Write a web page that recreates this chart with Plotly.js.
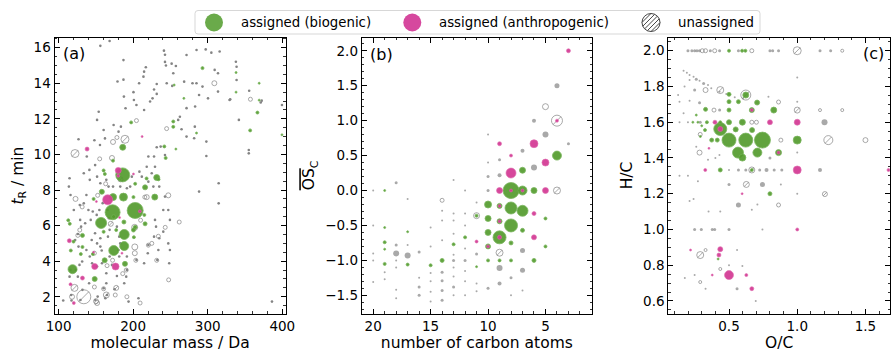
<!DOCTYPE html>
<html><head><meta charset="utf-8">
<script src="https://cdn.plot.ly/plotly-3.0.1.min.js"></script>
<style>html,body{margin:0;padding:0;background:#fff}</style>
</head><body><div id="chart" style="width:891px;height:355px"></div>
<script>
// ---------------- Panel (a): retention time vs molecular mass ----------------
const aBioMass=[172.4,202.7,186,157,174,188,188,118.7,173,187,186,231.6,229,216,158,189,161.8,148.4,216,202.7,132,132,129.8,115,116.4,160.4,160.4,147,173,200.4,202.7,241.8,243.6,253.8,253.8,255,268,285,293,338,338,369,366.7,356.9,369,399.6,197.3,257.3,200.4,201,187.6,218,173.8,177.3,113,120,146,162,234,215];
const aBioRT=[6.75,6.85,8.85,6.15,4.6,5.5,4.85,3.55,7.6,7.6,10.4,8.7,7.6,8.15,7.9,3.85,4.05,3.0,6.1,5.9,5.45,4.8,4.4,6.1,4.6,5.65,9.1,7.5,9.65,7.6,8.35,10.45,9.8,11.85,11.55,13.9,13.15,11.2,14.85,14.6,13.5,13.05,12.35,11.35,14.0,11.1,11.8,10.3,5.75,5.35,6.2,8.65,6.5,5.75,6.3,5.1,4.4,8.9,8.6,6.6];
const aBioSize=[15,16,14,11,10,10,9,9,7,8,6,6,6,5,5,5,5,5,4,4,4,3,3,3,3,3,3,3,3,3,3,3,3,3,3,2,2,2,3,2,2,2,3,3,2,2,3,2,4,3,4,3,4,3,3,3,3,3,3,3];
const aAnthMass=[165.8,176.4,148.4,180,138.2,132,114.4,116,120.4,209,200.4,212,181.8,150.7,147,180,185];
const aAnthRT=[7.45,3.7,3.7,9.1,10.3,3.05,5.15,2.7,1.65,6.8,8.9,11.0,6.45,7.35,4.5,8.8,4.45];
const aAnthSize=[10,7,6,6,4,4,4,3,3,3,2,2,2,2,2,3,2];
const aHatchMass=[133.8,122,189,121.3,151.6,164,177.3,202,183,170];
const aHatchRT=[2.0,10.05,10.85,2.5,1.65,2.1,2.5,5.9,8.6,6.1];
const aHatchSize=[14,8,8,7,5,6,5,6,5,5];
const aRingMass=[261.8,218.2,247.1,171.6,173,178.2,204.4,152.4,163.1,122.7,128.4,125.8,202.2,202.2,220.4,203.6,190.7,172.4,160.4,150.2,191.6,209.3,247.6,231.6,233.8,215.6,155.1,308.9,357.3,244.9,131.6,148,176,118,148,165,186,210,225,243];
const aRingRT=[6.2,7.6,7.7,9.8,10.7,10.95,11.9,7.7,8.35,7.5,5.75,5.45,4.8,4.45,4.9,4.05,3.5,4.05,2.45,1.75,2.0,1.65,2.95,4.05,5.4,7.6,9.75,14.0,13.1,11.45,7.05,2.55,2.1,2.0,4.45,3.75,3.3,6.3,5.0,5.9];
const aRingSize=[4,5,5,5,5,4,4,4,4,5,4,4,6,5,4,4,4,4,4,5,4,4,4,4,4,4,4,5,4,4,4,4,4,5,4,4,4,4,4,4];
const aDotMass=[168.4,156,187,179,187,187.6,200.4,201,208,213.8,214.7,217,231.6,228,231.6,241.3,242.7,242.7,244,251.6,253.8,257.3,245,252.4,226,222.7,214.7,204.4,189.8,183.6,180.4,173.8,160.4,153.8,151.6,162.2,155.5,148,126.7,137.8,149,141.3,133.8,114.7,116,113.8,120.4,128.4,133.8,137.3,141.8,151.6,156,164,167,173,182.7,191.6,196,198.2,208.4,211.6,218.2,220.4,228,229.3,231.6,236.9,242.7,224.9,220.4,227.1,235,242.7,240.4,247.1,249.3,229.3,230.7,228,235,240.4,247.1,249.3,248.4,232.4,233.8,220.4,219.6,214.7,204.4,191.6,191.6,190.7,188,178.2,175,164.9,162.7,152.4,149.3,129.3,116.9,117.3,106.2,193.8,207.1,160.4,164,164,151.6,144.9,141.8,137.3,126.7,122.2,125.8,130.2,128.9,135.6,143.1,145.8,140,151.1,154.7,159.1,165.8,167.5,151.6,156,148.9,144.4,156,157.8,166.2,168.4,178.2,181.3,182.7,180.4,181.3,171.6,168.4,158.2,131.6,128,123.1,116,114.7,125.8,132,140.9,298.2,288.4,314.7,314.7,355.1,355.1,341.8,329.3,313.8,313.8,309.3,316,304.9,297.3,285,271.6,268.4,279.6,284.9,293,288.4,300.4,283.1,271.6,262.7,264.9,271.6,281.8,282.7,298.2,337.8,338.7,338.7,355.6,371.1,372.4,386.2,399.6,330.2,260.4];
const aDotRT=[16.37,16.1,15.3,14.1,14.2,13.25,13.5,13.06,14.0,14.37,14.65,14.9,13.96,13.65,13.4,15.83,15.6,15.2,15.0,15.1,14.56,14.97,14.0,13.85,13.15,12.97,12.5,12.78,12.59,11.56,11.28,11.65,11.37,12.4,11.94,10.9,10.53,10.8,10.85,9.88,9.4,9.13,8.94,8.66,7.72,8.19,6.88,7.16,7.25,7.72,8.57,8.75,8.38,8.57,8.19,8.19,8.19,8.1,8.19,8.75,9.03,8.75,9.31,9.88,9.88,9.31,10.4,10.44,9.97,8.94,8.47,8.19,8.19,7.63,6.88,6.88,6.32,6.32,5.94,5.38,5.29,5.66,5.0,4.63,3.88,4.07,4.63,4.91,4.45,3.88,4.07,4.26,3.51,3.13,2.76,3.17,2.42,2.1,1.92,2.01,1.82,1.82,2.1,1.79,1.79,1.73,1.92,2.48,2.76,3.32,3.7,3.88,4.26,4.63,4.82,5.19,5.53,5.94,6.32,6.13,6.32,6.79,6.88,6.6,6.88,7.26,6.88,6.41,5.0,5.29,5.57,5.19,4.82,4.6,5.38,5.76,5.94,5.38,5.0,4.63,4.26,3.79,4.26,3.88,3.98,3.79,3.51,3.51,3.13,3.13,2.39,2.76,9.91,7.91,8.38,7.25,10.06,10.25,11.94,13.06,13.53,14.56,14.75,15.78,15.72,15.9,15.87,15.59,14.09,14.0,14.0,13.81,13.34,13.15,12.69,12.6,12.12,11.41,11.0,10.91,11.56,10.72,15.21,14.93,14.18,13.58,12.92,13.02,1.73,12.78,13.1,11.94];

// ---------------- Panel (b): mean carbon oxidation state vs number of C ----------------
const bBioC=[8,7,6,4,7,8,7,8,9,10,10,10,9,9,8,7,5,5,6,8,9,10,11,11,12,13,14,15,17,17,19,19,19,19,19,10];
const bBioOS=[0,0,0,0.5,0.29,-0.25,-0.29,-0.5,-0.67,-0.2,-0.4,-0.6,-0.22,-0.44,-0.75,-0.57,-0.4,-0.8,-1.0,-1.0,-1.0,-1.0,-1.09,-0.36,-0.67,-0.77,-1.0,-1.07,-0.59,-1.06,-0.74,-0.84,-1.05,0,-0.53,-0.8];
const bBioSize=[16,9,6,9,6,12,11,13,13,7,6,6,5,5,4,4,3,3,4,3,3,3,2,3,3,3,4,3,2,3,3,2,3,2,2,5];
const bAnthC=[3,4,6,9,8,8,5,9,5,7,8,6,6,9,9,9,11,10];
const bAnthOS=[2.0,1.0,0.67,0.67,0.5,0.25,0.4,0,0,0,0,-0.33,-0.67,-0.22,-0.44,-0.67,-0.73,-0.8];
const bAnthSize=[4,3,8,4,3,10,7,6,6,3,3,4,5,3,3,4,3,3];
const bHatchC=[4,4,9];
const bHatchOS=[1.0,0.0,-0.89];
const bHatchSize=[11,7,7];
const bRingC=[5,11,14];
const bRingOS=[1.2,-0.36,-0.14];
const bRingSize=[6,6,4];
const bDotC=[4,6,5,3,7,6,9,9,10,10,10,10,13,17,18,20,12,11,12,13,14,13,14,12,13,14,15,15,12,13,11,12,13,16,17,18,18,18,18,18,19,19,20,20,20,20,16,16,16,15,15,15,15,14,14,14,14,13,13,13,13,12,12,12,11,11,10,9,9,8,8,7,7,7,17,18];
const bDotOS=[1.5,1.0,0.8,0.67,0.57,0.33,0.44,0.22,0.2,0.4,0.8,0,0.15,-0.12,0.11,0,0,-0.17,-0.33,-0.33,-0.29,-0.43,-0.43,-0.5,-0.62,-0.71,-0.8,-0.53,-0.83,-0.92,-0.91,-1.0,-1.0,-0.88,-0.78,-0.78,-1.0,-1.1,-1.42,-1.54,-1.17,-1.27,-0.9,-1.0,-1.31,-0.5,-1.25,-1.38,-1.5,-1.18,-1.3,-1.45,-1.59,-1.17,-1.29,-1.43,-1.57,-1.1,-1.23,-1.38,-1.5,-1.15,-1.3,-1.5,-1.33,-1.44,-1.4,-1.33,-1.11,-1.25,-1.5,-1.14,-1.43,-0.86,-0.93,-0.9];
const bDotSize=[5,4,6,3,4,6,3,4,3,2,2,3,2,2,3,2,2,2,2,2,2,2,2,2,2,2,2,2,2,2,3,3,3,3,2,3,2,2,2,2,2,2,2,2,2,2,2,3,3,2,2,2,2,3,3,3,3,2,2,3,2,2,2,2,2,2,3,4,6,3,2,5,2,5,6,6];

// ---------------- Panel (c): van Krevelen H/C vs O/C ----------------
const cBioOC=[0.436,0.5,0.623,0.745,0.566,0.598,0.708,0.863,1.0,0.5,0.598,0.549,0.669,0.436,0.5,0.828,0.706,0.5,0.569,0.5,0.623,0.667,0.373,0.414,0.324,0.338,0.272,0.235,0.26,0.328,0.436,0.667,0.8,0.5,0.596,0.62,0.42,0.3,0.29];
const cBioHC=[1.562,1.5,1.5,1.5,1.43,1.402,1.43,1.43,1.5,1.6,1.6,1.56,1.556,1.6,1.668,1.668,1.71,1.715,1.715,1.756,1.752,1.668,1.5,1.5,1.556,1.6,1.6,1.6,1.64,1.672,1.333,1.333,1.2,2.0,2.0,2.0,0.835,1.58,1.52];
const cBioSize=[13,14,14,16,11,7,9,6,8,5,6,5,5,3,4,6,5,4,4,4,6,5,4,4,3,3,2,2,2,4,4,3,4,3,3,3,2,2,2];
const cAnthOC=[0.436,0.397,0.8,1.0,0.667,0.863,0.326,1.0,1.669,0.596,1.0,0.218,0.436,0.426,0.377,0.5,0.627,0.667,0.353];
const cAnthHC=[1.562,1.6,1.6,1.6,1.668,1.43,1.333,1.333,1.333,1.2,1.0,0.885,0.89,0.857,0.745,0.745,0.745,0.669,1.454];
const cAnthSize=[5,4,5,6,3,3,3,8,3,2,3,2,5,4,2,9,3,4,2];
const cHatchOC=[0.436,0.623,1.0,1.0,1.228,0.667,0.627,1.203,0.289];
const cHatchHC=[1.78,1.752,2.0,1.668,1.5,1.333,1.252,1.198,0.857];
const cHatchSize=[7,10,8,6,9,6,6,5,7];
const cRingOC=[0.328,0.39,0.701,0.88,1.5,0.863,1.167,1.33,0.289,0.284,0.863,0.328,0.436,0.289,0.304,0.328,0.395,0.667,1.33,0.667];
const cRingHC=[1.78,1.668,1.6,1.5,1.5,1.713,1.668,1.668,1.532,1.43,1.137,0.885,0.779,0.706,2.0,2.0,2.0,2.0,2.0,1.6];
const cRingSize=[5,4,4,4,5,4,3,3,4,5,4,3,3,3,4,4,4,4,3,4];
const cDotOC=[0.199,0.228,0.248,0.265,0.284,0.363,0.431,0.569,0.8,0.82,0.863,1.167,1.245,0.167,0.191,0.211,0.24,0.26,0.284,0.314,0.346,0.37,0.431,0.48,0.542,0.603,0.211,0.174,0.248,0.789,1.0,1.0,0.127,0.137,0.211,0.284,0.431,0.167,0.137,0.199,0.289,1.2,0.26,0.346,0.4,0.43,0.8,1.0,0.5,0.569,0.623,0.725,0.775,0.831,0.887,1.167,0.5,0.745,0.88,1.0,0.137,0.199,0.272,0.569,0.708,0.667,0.211,0.24,0.35,0.436,0.248,0.297,0.377,0.395,0.5,0.745,0.559,0.5,0.598,0.176,0.248,0.328,0.559,0.696];
const cDotHC=[2.0,2.0,2.0,2.0,2.0,2.0,2.0,2.0,2.0,2.0,2.0,2.0,2.0,1.888,1.877,1.864,1.855,1.84,1.832,1.817,1.808,1.79,1.77,1.758,1.74,1.733,1.836,1.8,1.78,1.743,1.715,1.85,1.752,1.715,1.72,1.709,1.668,1.65,1.6,1.6,1.6,1.6,1.463,1.39,1.4,1.417,1.4,1.43,1.333,1.333,1.333,1.333,1.333,1.333,1.333,1.333,1.252,1.252,1.252,1.2,1.3,1.3,1.27,1.137,1.14,1.11,1.159,1.17,1.1,1.1,1.0,1.0,1.0,1.0,1.0,1.0,0.885,0.8,0.796,0.729,0.745,0.669,0.669,0.6];
const cDotSize=[3,3,3,3,3,3,3,3,3,3,3,3,3,2,2,2,2,3,2,3,2,2,2,2,2,2,2,2,3,2,2,2,2,2,2,3,3,2,2,2,3,6,2,2,2,2,3,2,2,3,3,3,4,3,3,4,3,5,2,2,2,2,2,5,2,2,2,2,2,2,3,3,3,3,3,2,2,2,2,2,2,2,3,2];

// ---------------- styles ----------------
const GREEN='rgb(84,156,46)', MAG='rgb(212,62,150)', GRAY='rgb(132,132,132)';
const FONT='DejaVu Sans';

function series(x,y,s,xa,ya,kind){
  const t={type:'scatter',mode:'markers',x:x,y:y,xaxis:xa,yaxis:ya,showlegend:false,hoverinfo:'skip'};
  if(kind==='dot'){t.marker={size:s,color:GRAY,line:{width:0}};}
  if(kind==='ring'){t.marker={size:s,symbol:'circle-open',color:GRAY,line:{width:1,color:GRAY}};}
  if(kind==='hatch'){t.marker={size:s,symbol:'circle-open',color:GRAY,line:{width:1,color:GRAY}};}
  if(kind==='hatchline'){t.marker={size:s.map(v=>v*0.72),symbol:'line-ne',color:GRAY,line:{width:1,color:GRAY}};}
  if(kind==='bio'){t.marker={size:s,color:GREEN,opacity:0.92,line:{width:1,color:'rgba(112,176,82,0.8)'}};}
  if(kind==='anth'){t.marker={size:s,color:MAG,opacity:0.95,line:{width:0.8,color:'rgba(222,100,172,0.8)'}};}
  return t;
}
const data=[];
function panel(xa,ya,d){
  data.push(series(d.dx,d.dy,d.ds,xa,ya,'dot'));
  data.push(series(d.rx,d.ry,d.rs,xa,ya,'ring'));
  data.push(series(d.hx,d.hy,d.hs,xa,ya,'hatch'));
  data.push(series(d.hx,d.hy,d.hs,xa,ya,'hatchline'));
  data.push(series(d.gx,d.gy,d.gs,xa,ya,'bio'));
  data.push(series(d.mx,d.my,d.ms,xa,ya,'anth'));
}
panel('x','y',{dx:aDotMass,dy:aDotRT,ds:2.6,rx:aRingMass,ry:aRingRT,rs:aRingSize,hx:aHatchMass,hy:aHatchRT,hs:aHatchSize,gx:aBioMass,gy:aBioRT,gs:aBioSize,mx:aAnthMass,my:aAnthRT,ms:aAnthSize});
panel('x2','y2',{dx:bDotC,dy:bDotOS,ds:bDotSize,rx:bRingC,ry:bRingOS,rs:bRingSize,hx:bHatchC,hy:bHatchOS,hs:bHatchSize,gx:bBioC,gy:bBioOS,gs:bBioSize,mx:bAnthC,my:bAnthOS,ms:bAnthSize});
panel('x3','y3',{dx:cDotOC,dy:cDotHC,ds:cDotSize,rx:cRingOC,ry:cRingHC,rs:cRingSize,hx:cHatchOC,hy:cHatchHC,hs:cHatchSize,gx:cBioOC,gy:cBioHC,gs:cBioSize,mx:cAnthOC,my:cAnthHC,ms:cAnthSize});

const W=891,H=355;
const px=p=>p/W, py=p=>1-p/H;
const yDom=[py(313.5),py(37.5)];
function ax(domain,range,dtick,minor,title,standoff,fmt,anchor,tickvals){
  const a={domain:domain,range:range,anchor:anchor,showline:true,linecolor:'black',linewidth:1,mirror:'allticks',
    ticks:'inside',ticklen:5,tickwidth:1,tickcolor:'black',showgrid:false,zeroline:false,
    tickfont:{family:FONT,size:13.5,color:'black'},
    minor:{ticks:'inside',ticklen:2.5,tickwidth:0.8,tickcolor:'black',dtick:minor,showgrid:false},
    title:{text:title,font:{family:FONT,size:15.5,color:'black'},standoff:standoff},
    automargin:false,fixedrange:true};
  if(tickvals){a.tickmode='array';a.tickvals=tickvals;} else {a.dtick=dtick;a.tick0=0;}
  if(fmt)a.tickformat=fmt;
  return a;
}
const layout={
  width:W,height:H,margin:{l:0,r:0,t:0,b:0},paper_bgcolor:'white',plot_bgcolor:'white',showlegend:false,
  font:{family:FONT,color:'black'},
  xaxis:ax([px(54.5),px(285.7)],[94.5,404.6],100,20,'molecular mass / Da',4,null,'y'),
  yaxis:ax(yDom,[1.06,16.57],2,0.5,'<i>t</i><sub>R</sub> / min',6,null,'x',[2,4,6,8,10,12,14,16]),
  xaxis2:ax([px(361.7),px(592)],[21.0,0.95],5,1,'number of carbon atoms',4,null,'y2'),
  yaxis2:ax(yDom,[-1.76,2.19],0.5,0.1,'<span style="text-decoration:overline">OS</span><sub>C</sub>',6,'.1f','x2'),
  xaxis3:ax([px(668.3),px(890)],[0.055,1.68],0.5,0.1,'O/C',4,'.1f','y3'),
  yaxis3:ax(yDom,[0.53,2.074],0.2,0.05,'H/C',6,'.1f','x3'),
  annotations:[],shapes:[]
};
// panel labels
layout.annotations.push({xref:'paper',yref:'paper',x:px(61),y:py(53),xanchor:'left',yanchor:'middle',text:'(a)',showarrow:false,font:{family:FONT,size:16,color:'black'}});
layout.annotations.push({xref:'paper',yref:'paper',x:px(367.5),y:py(54),xanchor:'left',yanchor:'middle',text:'(b)',showarrow:false,font:{family:FONT,size:16,color:'black'}});
layout.annotations.push({xref:'paper',yref:'paper',x:px(886),y:py(53),xanchor:'right',yanchor:'middle',text:'(c)',showarrow:false,font:{family:FONT,size:16,color:'black'}});

// legend (drawn manually to get the hatched symbol)
const LT=10.5, LB=34, LL=195, LR=760, rr=3;
layout.shapes.push({type:'path',xref:'paper',yref:'paper',
  path:`M ${px(LL+rr)},${py(LT)} L ${px(LR-rr)},${py(LT)} Q ${px(LR)},${py(LT)} ${px(LR)},${py(LT+rr)} L ${px(LR)},${py(LB-rr)} Q ${px(LR)},${py(LB)} ${px(LR-rr)},${py(LB)} L ${px(LL+rr)},${py(LB)} Q ${px(LL)},${py(LB)} ${px(LL)},${py(LB-rr)} L ${px(LL)},${py(LT+rr)} Q ${px(LL)},${py(LT)} ${px(LL+rr)},${py(LT)} Z`,
  line:{color:'rgb(215,215,215)',width:1},fillcolor:'rgba(255,255,255,0.85)'});
const cy=22.5, R=9;
function circ(cx,fill,line){layout.shapes.push({type:'circle',xref:'paper',yref:'paper',x0:px(cx-R),x1:px(cx+R),y0:py(cy+R),y1:py(cy-R),fillcolor:fill,line:line});}
circ(214,'rgb(106,170,74)',{width:0});
circ(412.3,'rgb(214,72,158)',{width:0});
circ(651,'white',{width:1,color:'rgb(70,70,70)'});
[-6.4,-3.2,0,3.2,6.4].forEach(d=>{
  const h=Math.sqrt(R*R-d*d), s=Math.SQRT1_2;
  const mx=651+d*s, my=cy+d*s;
  layout.shapes.push({type:'line',xref:'paper',yref:'paper',x0:px(mx-h*s),y0:py(my+h*s),x1:px(mx+h*s),y1:py(my-h*s),line:{color:'rgb(70,70,70)',width:1}});
});
[['assigned (biogenic)',239],['assigned (anthropogenic)',436.7],['unassigned',675.7]].forEach(([t,x])=>{
  layout.annotations.push({xref:'paper',yref:'paper',x:px(x),y:py(cy),xanchor:'left',yanchor:'middle',text:t,showarrow:false,font:{family:FONT,size:13.3,color:'black'}});
});

Plotly.newPlot('chart',data,layout,{staticPlot:true,displayModeBar:false});
</script></body></html>
